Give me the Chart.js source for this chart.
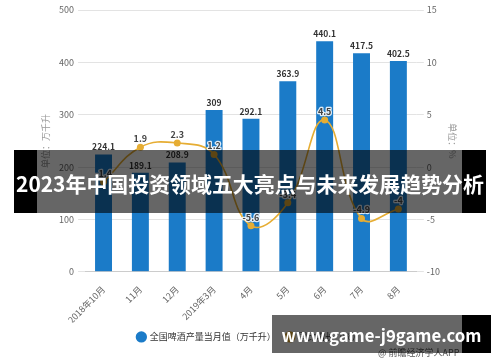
<!DOCTYPE html>
<html>
<head>
<meta charset="utf-8">
<script src="https://cdn.jsdelivr.net/npm/chart.js@4.4.0/dist/chart.umd.min.js"></script>
<style>
  html,body{margin:0;padding:0;background:#fff;}
  #wrap{position:relative;width:500px;height:362px;overflow:hidden;font-family:"Noto Sans CJK SC","Noto Sans",sans-serif;}
  canvas{position:absolute;left:0;top:0;}
  .blk{position:absolute;background:#000;}
  .dim{position:absolute;background:rgba(0,0,0,0.6);}
  .txt{position:absolute;color:#fff;font-weight:bold;white-space:nowrap;text-align:center;}
  #src{position:absolute;left:378px;top:346px;font-size:9px;color:#555;white-space:nowrap;}
</style>
</head>
<body>
<div id="wrap">
  <canvas id="c" width="500" height="362"></canvas>
  <div id="src">@ 前瞻经济学人APP</div>
  <div class="blk" style="left:14px;top:150px;width:23px;height:63px;"></div>
  <div class="dim" style="left:37px;top:150px;width:425px;height:63px;"></div>
  <div class="blk" style="left:462px;top:150px;width:24px;height:63px;"></div>
  <div class="txt" id="title" style="left:14px;top:150px;width:472px;height:63px;line-height:66px;">2023年中国投资领域五大亮点与未来发展趋势分析</div>
  <div class="dim" style="left:272px;top:315px;width:190px;height:38px;"></div>
  <div class="blk" style="left:462px;top:315px;width:29px;height:38px;"></div>
  <div class="txt" id="site" style="left:272px;top:315px;width:219px;height:38px;line-height:40px;">www.game-j9game.com</div>
</div>
<script>
const categories = ['2018年10月','11月','12月','2019年3月','4月','5月','6月','7月','8月'];
const production = [224.1, 189.1, 208.9, 309, 292.1, 363.9, 440.1, 417.5, 402.5];
const growth = [-1.4, 1.9, 2.3, 1.2, -5.6, -3.4, 4.5, -4.9, -4];
const leftTicks = [0, 100, 200, 300, 400, 500];
const rightTicks = [-10, -5, 0, 5, 10, 15];
const seriesNames = ['全国啤酒产量当月值（万千升）', '同比增长（%）'];

const BLUE = '#1b7bc8';
const GOLD = '#e6ad33';
const FONT = '"Noto Sans CJK SC","Noto Sans",sans-serif';

// fit overlay text widths
function fitText(id, target, weight){
  const el = document.getElementById(id);
  const cv = document.createElement('canvas').getContext('2d');
  cv.font = weight + ' 20px ' + FONT;
  const w = cv.measureText(el.textContent).width;
  el.style.fontSize = (20 * target / w) + 'px';
}
fitText('title', 468, 'bold');
fitText('site', 200, 'bold');

const valueLabels = {
  id: 'valueLabels',
  afterDatasetsDraw(chart){
    const ctx = chart.ctx;
    chart.data.datasets.forEach((ds, i) => {
      const meta = chart.getDatasetMeta(i);
      meta.data.forEach((el, j) => {
        const v = ds.data[j];
        ctx.save();
        ctx.textAlign = 'center';
        ctx.textBaseline = 'bottom';
        if (ds.type === 'bar') {
          ctx.font = 'bold 8.5px ' + FONT;
          ctx.fillStyle = '#333';
          ctx.fillText(String(v), el.x, el.y - 3);
        } else {
          ctx.font = 'bold 9px ' + FONT;
          ctx.lineWidth = 2.5;
          ctx.strokeStyle = 'rgba(255,255,255,0.85)';
          ctx.lineJoin = 'round';
          ctx.strokeText(String(v), el.x, el.y - 4);
          ctx.fillStyle = '#444';
          ctx.fillText(String(v), el.x, el.y - 4);
        }
        ctx.restore();
      });
    });
  }
};

new Chart(document.getElementById('c'), {
  data: {
    labels: categories,
    datasets: [
      {
        type: 'line', label: seriesNames[1], data: growth, yAxisID: 'y1',
        borderColor: GOLD, backgroundColor: GOLD, borderWidth: 1.6,
        pointRadius: 3.5, pointBackgroundColor: GOLD, pointBorderWidth: 0,
        tension: 0.42, order: 0
      },
      {
        type: 'bar', label: seriesNames[0], data: production, yAxisID: 'y',
        backgroundColor: BLUE, categoryPercentage: 1, barPercentage: 0.46, order: 1
      }
    ]
  },
  options: {
    responsive: false,
    animation: false,
    devicePixelRatio: 1,
    layout: { padding: { left: 38, right: 40, top: 10, bottom: 10.6 } },
    plugins: {
      tooltip: { enabled: false },
      legend: {
        position: 'bottom',
        reverse: true,
        labels: {
          usePointStyle: true, pointStyle: 'circle', boxHeight: 8, boxWidth: 8,
          padding: 10, color: '#333', font: { size: 9, family: FONT }
        }
      }
    },
    scales: {
      x: {
        type: 'category',
        grid: { display: false },
        border: { display: true, color: '#cccccc' },
        ticks: { minRotation: 45, maxRotation: 45, autoSkip: false, padding: 4, color: '#666', font: { size: 9, family: FONT } },
        afterFit: (s) => { s.height = 50.6; }
      },
      y: {
        position: 'left', min: 0, max: 500,
        afterBuildTicks: (s) => { s.ticks = leftTicks.map(v => ({ value: v })); },
        grid: { color: '#e3e3e3', tickLength: 7, tickColor: '#e3e3e3' },
        border: { display: false },
        ticks: { padding: 4, color: '#666', font: { size: 9, family: FONT } },
        title: { display: true, text: '单位：万千升', color: '#999', font: { size: 9, family: FONT }, padding: { top: 2, bottom: 0 } },
        afterFit: (s) => { s.width = 47.1; }
      },
      y1: {
        position: 'right', min: -10, max: 15,
        afterBuildTicks: (s) => { s.ticks = rightTicks.map(v => ({ value: v })); },
        grid: { drawOnChartArea: false, tickLength: 7, color: '#e3e3e3', tickColor: '#e3e3e3' },
        border: { display: false },
        ticks: { padding: 3, color: '#666', font: { size: 9, family: FONT } },
        title: { display: true, text: '单位：%', color: '#999', font: { size: 9, family: FONT }, padding: { top: 2.6, bottom: 0 } },
        afterFit: (s) => { s.width = 43.2; }
      }
    }
  },
  plugins: [valueLabels]
});
</script>
</body>
</html>
